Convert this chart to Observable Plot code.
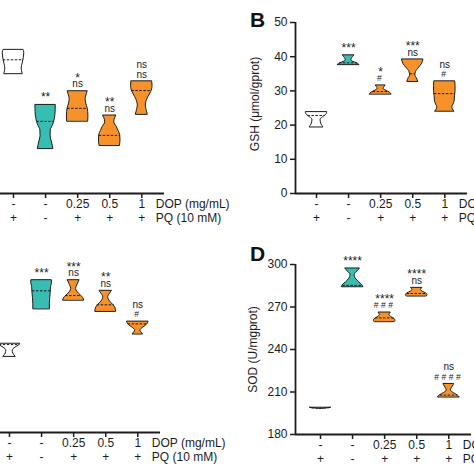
<!DOCTYPE html>
<html><head><meta charset="utf-8">
<script src="https://cdn.jsdelivr.net/npm/d3@7"></script>
<script src="https://cdn.jsdelivr.net/npm/@observablehq/plot@0.6"></script>
<style>
html,body{margin:0;padding:0;background:#fff;}
body{width:474px;height:474px;overflow:hidden;position:relative;font-family:"Liberation Sans",Arial,sans-serif;}
.panel{position:absolute;}
.panel svg{font-family:"Liberation Sans",Arial,sans-serif !important;font-size:12px !important;}
.panel svg text{font-family:"Liberation Sans",Arial,sans-serif !important;}
.lbl text, .lbl{font-size:12px !important;}
.star text{font-size:12px !important;}
.ns text{font-size:10px !important;}
.hash text{font-size:8.5px !important;letter-spacing:2.5px;}
.panel svg g[aria-label="y-axis tick label"]{font-size:12px !important;}
.panel svg g[aria-label="y-axis tick label"] text{font-size:12px !important;}
.letter{position:absolute;font-size:21px;font-weight:bold;line-height:21px;color:#111;}
</style></head><body>
<div id="pA" class="panel"></div>
<div id="pB" class="panel"></div>
<div id="pC" class="panel"></div>
<div id="pD" class="panel"></div>
<div class="letter" style="left:250px;top:9px">B</div>
<div class="letter" style="left:250px;top:243px">D</div>
<script>
// ---------- shared categories ----------
const dopLabels = ["-", "-", "0.25", "0.5", "1"];
const pqLabels = ["+", "-", "+", "+", "+"];
const groupKinds = ["model", "control", "dop", "dop", "dop"];
const rowTitles = ["DOP (mg/mL)", "PQ (10 mM)"];

// ---------- Panel A (y axis cropped) : violin profiles [value, relative width] ----------
const violinA = [
  [[35.0,0.85],[36.5,0.76],[38.0,0.85],[39.5,0.95],[41.2,1.0],[42.0,0.93]],
  [[13.1,0.72],[14.9,0.6],[16.7,0.47],[18.4,0.48],[20.2,0.72],[21.8,0.86],[23.7,0.93],[25.9,0.95]],
  [[21.1,0.98],[22.8,1.0],[24.9,0.93],[26.3,0.8],[27.7,0.74],[29.0,0.85],[29.9,0.93]],
  [[14.0,0.95],[15.5,1.0],[17.0,0.98],[18.3,0.82],[19.5,0.65],[20.8,0.42],[22.0,0.5],[22.8,0.62]],
  [[23.1,0.55],[24.4,0.45],[25.7,0.37],[27.0,0.45],[28.2,0.62],[29.2,0.8],[30.1,0.93],[31.5,1.0],[32.8,0.97]]
];
const medianA = [39.1, 21.1, 24.9, 17.0, 30.1];
const medianWidthA = [0.95, 0.82, 0.93, 0.98, 0.93];
const topNoteA = ["", "", "*", "**", "ns"];
const lowNoteA = ["", "**", "ns", "ns", "ns"];

// ---------- Panel B : GSH ----------
const violinB = [
  [[19.4,0.62],[20.8,0.4],[21.6,0.38],[22.5,0.7],[23.2,0.95],[23.8,1.0]],
  [[37.6,1.0],[38.1,0.75],[38.9,0.25],[39.6,0.35],[40.4,0.55]],
  [[29.0,1.0],[29.5,0.85],[30.0,0.55],[30.6,0.28],[31.1,0.35],[31.6,0.46]],
  [[32.7,0.5],[33.6,0.4],[34.5,0.25],[35.5,0.3],[36.6,0.55],[37.8,0.85],[39.2,1.0]],
  [[24.0,0.88],[24.6,0.75],[25.2,0.7],[26.0,0.8],[27.0,0.92],[28.5,0.95],[30.0,1.0],[31.5,1.0],[32.8,0.97]]
];
const medianB = [22.8, 38.2, 29.8, 35.0, 29.2];
const medianWidthB = [0.8, 0.85, 0.7, 0.23, 0.97];
const topNoteB = ["", "", "*", "***", "ns"];
const lowNoteB = ["", "***", "#", "ns", "#"];
const yTicksB = [0, 10, 20, 30, 40, 50];
const yLabelB = "GSH (μmol/gprot)";

// ---------- Panel C (y axis cropped) ----------
const violinC = [
  [[27.1,0.55],[28.2,0.35],[29.3,0.3],[30.3,0.55],[31.1,0.9],[31.7,1.0]],
  [[44.1,0.77],[46.0,0.77],[48.0,0.8],[50.0,0.85],[52.0,0.88],[53.5,0.97],[54.4,0.95]],
  [[47.2,0.97],[48.0,0.9],[49.0,0.65],[50.2,0.35],[51.3,0.23],[52.7,0.35],[54.4,0.55]],
  [[43.2,0.97],[44.3,0.92],[45.5,0.72],[46.8,0.4],[48.3,0.23],[49.5,0.38],[50.6,0.58]],
  [[35.1,0.46],[35.7,0.35],[36.4,0.23],[37.3,0.45],[38.3,0.8],[39.0,0.95],[39.6,1.0]]
];
const medianC = [31.4, 50.6, 48.9, 45.6, 38.8];
const medianWidthC = [0.95, 0.85, 0.75, 0.8, 0.9];
const topNoteC = ["", "", "***", "**", "ns"];
const lowNoteC = ["", "***", "ns", "ns", "#"];

// ---------- Panel D : SOD ----------
const violinD = [
  [[198.1,0.2],[198.5,0.6],[198.9,1.0]],
  [[284.2,1.0],[285.5,0.9],[287.5,0.6],[290.0,0.3],[292.4,0.19],[294.5,0.35],[296.2,0.6],[297.2,0.68]],
  [[259.5,0.95],[260.3,1.0],[261.5,0.92],[263.0,0.6],[264.3,0.45],[265.3,0.5],[266.1,0.57]],
  [[277.6,0.95],[278.3,1.0],[279.5,0.9],[280.8,0.55],[282.0,0.4],[282.8,0.45],[283.5,0.53]],
  [[206.3,1.0],[207.5,0.85],[209.3,0.45],[211.1,0.19],[213.0,0.3],[214.8,0.45],[215.7,0.5]]
];
const medianD = [198.7, 285.3, 262.3, 279.5, 207.8];
const medianWidthD = [0.8, 0.9, 0.85, 0.9, 0.8];
const topNoteD = ["", "", "****", "****", "ns"];
const lowNoteD = ["", "****", "###", "ns", "####"];
const yTicksD = [180, 210, 240, 270, 300];
const yLabelD = "SOD (U/mgprot)";

// ---------- drawing ----------
const TEAL = "#37bdb2", ORANGE = "#f7922b", INK = "#1c1c1c";
const HALF = 0.335;
const FONT = "'Liberation Sans', Arial, sans-serif";

function drawPanel(cfg) {
  const idx = dopLabels.map((_, i) => i + 1);
  const shape = cfg.violins.flatMap((prof, i) => prof.map(([v, w]) => ({g: idx[i], kind: groupKinds[i], v, w})));
  const meds = cfg.medians.map((v, i) => ({g: idx[i], v, w: cfg.medianWidths[i]}));
  const tops = cfg.violins.map(p => d3.max(p, d => d[0]));
  const notes = [];
  cfg.topNotes.forEach((t, i) => { if (t) notes.push({g: idx[i], v: tops[i], t, line: 1}); });
  cfg.lowNotes.forEach((t, i) => { if (t) notes.push({g: idx[i], v: tops[i], t, line: 2}); });
  const star = d => d.t.includes("*"), hash = d => d.t.includes("#");
  const plain = d => !star(d) && !hash(d);
  const last = idx[idx.length - 1];
  const marks = [
    Plot.areaX(shape, {y: "v", x1: d => d.g - d.w * HALF, x2: d => d.g + d.w * HALF, z: "g", fill: "kind",
      stroke: INK, strokeWidth: 1, curve: "monotone-y"}),
    Plot.ruleY(meds, {y: "v", x1: d => d.g - d.w * HALF, x2: d => d.g + d.w * HALF, stroke: INK, strokeWidth: 1, strokeDasharray: "2.5,1.5"}),
    Plot.text(notes.filter(d => star(d) && d.line === 1), {x: "g", y: "v", text: "t", dy: -13.5, fontSize: 12, fill: INK, className: "star"}),
    Plot.text(notes.filter(d => star(d) && d.line === 2), {x: "g", y: "v", text: "t", dy: -7.5, fontSize: 12, fill: INK, className: "star"}),
    Plot.text(notes.filter(d => plain(d) && d.line === 1), {x: "g", y: "v", text: "t", dy: -17, fontSize: 10, fill: INK, className: "ns"}),
    Plot.text(notes.filter(d => plain(d) && d.line === 2), {x: "g", y: "v", text: "t", dy: -7, fontSize: 10, fill: INK, className: "ns"}),
    Plot.text(notes.filter(d => hash(d)), {x: "g", y: "v", text: "t", dy: -7, fontSize: 8.5, fill: INK, className: "hash"}),
    Plot.ruleX([cfg.xDomain[0]], {stroke: INK, strokeWidth: 1.8}),
    Plot.ruleY([cfg.yDomain[0]], {stroke: INK, strokeWidth: 1.8}),
    Plot.axisX({ticks: idx, tickSize: 5, tickFormat: () => "", strokeWidth: 1.5, stroke: INK, label: null}),
    Plot.text(idx, {x: d => d, text: (d, i) => dopLabels[i], frameAnchor: "bottom", dy: 14.5, fontSize: 12, fill: INK, className: "lbl"}),
    Plot.text(idx, {x: d => d, text: (d, i) => pqLabels[i], frameAnchor: "bottom", dy: 28.5, fontSize: 12, fill: INK, className: "lbl"}),
    Plot.text([rowTitles[0]], {x: () => last, text: d => d, frameAnchor: "bottom", dy: 14.5, dx: 14, textAnchor: "start", fontSize: 12, fill: INK, className: "lbl"}),
    Plot.text([rowTitles[1]], {x: () => last, text: d => d, frameAnchor: "bottom", dy: 28.5, dx: 14, textAnchor: "start", fontSize: 12, fill: INK, className: "lbl"})
  ];
  if (cfg.yTicks) {
    marks.push(Plot.axisY({ticks: cfg.yTicks, tickSize: 5, tickPadding: 3, fontSize: 12, strokeWidth: 1.5, stroke: INK, fill: INK, label: null}));
    marks.push(Plot.text([cfg.yLabel], {frameAnchor: "left", rotate: -90, textAnchor: "middle", dx: cfg.labelDx, dy: cfg.labelDy, text: d => d, fontSize: 12, fill: INK, className: "lbl"}));
  }
  const chart = Plot.plot({
    width: cfg.width, height: cfg.height,
    marginLeft: 50, marginRight: cfg.marginRight, marginTop: cfg.marginTop, marginBottom: cfg.marginBottom,
    x: {domain: cfg.xDomain},
    y: cfg.yTicks ? {domain: cfg.yDomain} : {domain: cfg.yDomain, axis: null},
    color: {domain: ["model", "control", "dop"], range: ["#ffffff", TEAL, ORANGE]},
    style: {fontFamily: FONT, fontSize: "12px", background: "transparent", overflow: "visible", maxWidth: "none", color: INK},
    marks
  });
  const host = document.getElementById(cfg.id);
  host.style.left = cfg.left + "px";
  host.style.top = cfg.top + "px";
  host.appendChild(chart);
}

drawPanel({id: "pA", left: -58, top: 0, width: 229, height: 229, marginRight: 7, marginTop: 22, marginBottom: 36,
  xDomain: [0.345, 5.708], yDomain: [0, 50], violins: violinA, medians: medianA, medianWidths: medianWidthA,
  topNotes: topNoteA, lowNotes: lowNoteA});
drawPanel({id: "pB", left: 245, top: 0, width: 229, height: 229, marginRight: 7, marginTop: 22, marginBottom: 36,
  xDomain: [0.345, 5.708], yDomain: [0, 50], violins: violinB, medians: medianB, medianWidths: medianWidthB,
  topNotes: topNoteB, lowNotes: lowNoteB, yTicks: yTicksB, yLabel: yLabelB, labelDx: -40, labelDy: -4});
drawPanel({id: "pC", left: -62, top: 237, width: 229, height: 237, marginRight: 7, marginTop: 27, marginBottom: 42,
  xDomain: [0.345, 5.708], yDomain: [0, 60], violins: violinC, medians: medianC, medianWidths: medianWidthC,
  topNotes: topNoteC, lowNotes: lowNoteC});
drawPanel({id: "pD", left: 245, top: 237, width: 229, height: 237, marginRight: 3, marginTop: 27, marginBottom: 40,
  xDomain: [0.221, 5.708], yDomain: [180, 300], violins: violinD, medians: medianD, medianWidths: medianWidthD,
  topNotes: topNoteD, lowNotes: lowNoteD, yTicks: yTicksD, yLabel: yLabelD, labelDx: -42, labelDy: 0});
</script>
</body></html>
